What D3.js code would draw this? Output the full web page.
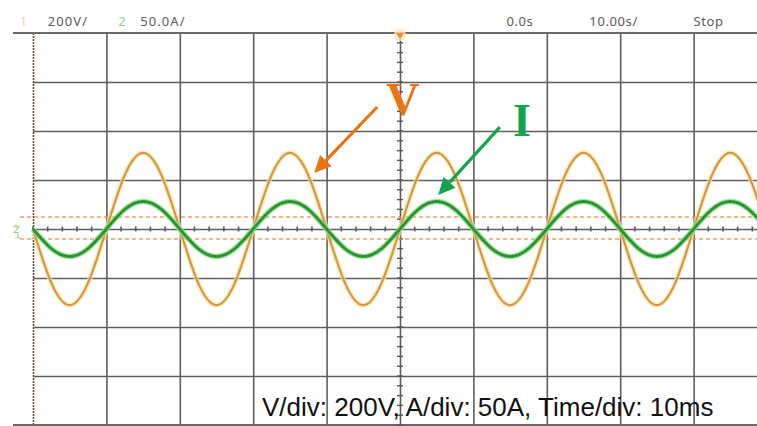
<!DOCTYPE html>
<html>
<head>
<meta charset="utf-8">
<script src="https://cdn.jsdelivr.net/npm/d3@7"></script>
<style>
  html, body { margin: 0; padding: 0; background: #fff; }
  svg { display: block; }
</style>
</head>
<body>
<svg id="chart" width="757" height="426"></svg>
<script>
// ---- Data ----
// time in ms, sampled every 2.5 ms
const timeMs = [0,2.5,5,7.5,10,12.5,15,17.5,20,22.5,25,27.5,30,32.5,35,37.5,40,42.5,45,47.5,50,
                52.5,55,57.5,60,62.5,65,67.5,70,72.5,75,77.5,80,82.5,85,87.5,90,92.5,95,97.5,100];
// channel 1: voltage (V)
const voltage = [0,-220,-311,-220,0,220,311,220,0,-220,-311,-220,0,220,311,220,0,-220,-311,-220,0,
                 220,311,220,0,-220,-311,-220,0,220,311,220,0,-220,-311,-220,0,220,311,220,0];
// channel 2: current (A)
const current = [0,-20,-28,-20,0,20,28,20,0,-20,-28,-20,0,20,28,20,0,-20,-28,-20,0,
                 20,28,20,0,-20,-28,-20,0,20,28,20,0,-20,-28,-20,0,20,28,20,0];
const xTicks = [0,10,20,30,40,50,60,70,80,90,100];
const vTicks = [-800,-600,-400,-200,0,200,400,600,800];
const triggerLevels = [49, -41];
const headerLeftLabels = ["1", "200V/", "2", "50.0A/"];
const headerLeftTimes = [-1.8, 2.0, 11.6, 14.6];
const headerRightLabels = ["0.0s", "10.00s/", "Stop"];
const headerRightTimes = [64.5, 75.8, 90.0];
const footer = "V/div: 200V, A/div: 50A, Time/div: 10ms";

// ---- Scales ----
const svg = d3.select("#chart");
const x = d3.scaleLinear().domain([0, 100]).range([33, 767]);
const yV = d3.scaleLinear().domain([-800, 800]).range([425, 33]);
const yI = d3.scaleLinear().domain([-200, 200]).range([425, 33]);

// ---- Grid ----
const grid = svg.append("g");
grid.append("g")
  .attr("transform", `translate(0,${yV(-800)})`)
  .call(d3.axisBottom(x).tickValues(xTicks).tickSize(-(yV(-800) - yV(800))).tickFormat(""))
  .call(g => g.select(".domain").remove())
  .call(g => g.selectAll(".tick line").attr("stroke-width", 1.6)
      .attr("stroke-dasharray", d => d === 0 ? "2,1" : null)
      .attr("stroke", d => d === 0 ? "#6a4a30" : "#5e5e5e"));
grid.append("g")
  .attr("transform", `translate(${x(0)},0)`)
  .call(d3.axisLeft(yV).tickValues(vTicks.filter(v => v !== 800 && v !== -800)).tickSize(-(x(100) - x(0))).tickFormat(""))
  .call(g => g.select(".domain").remove())
  .call(g => g.selectAll(".tick line").attr("stroke", "#5e5e5e").attr("stroke-width", 1.6));
// frame top & bottom borders
[800, -800].forEach(v => {
  grid.append("line").attr("x1", 13).attr("x2", 757)
    .attr("y1", yV(v)).attr("y2", yV(v))
    .attr("stroke", "#6a6a6a").attr("stroke-width", 2);
});
// minor ticks on the centre axes
const minorX = d3.range(0, 100.01, 2);
grid.selectAll(".mx").data(minorX).join("line")
  .attr("x1", d => x(d)).attr("x2", d => x(d))
  .attr("y1", yV(0) - 2.5).attr("y2", yV(0) + 2.5)
  .attr("stroke", "#556").attr("stroke-width", 1.6);
const minorY = d3.range(-800, 800.01, 40);
grid.selectAll(".my").data(minorY).join("line")
  .attr("x1", x(50) - 3).attr("x2", x(50) + 3)
  .attr("y1", d => yV(d)).attr("y2", d => yV(d))
  .attr("stroke", "#556").attr("stroke-width", 1.4);

// trigger level dashed lines
svg.selectAll(".trig").data(triggerLevels).join("line")
  .attr("x1", 20).attr("x2", 757)
  .attr("y1", d => Math.round(yV(d))).attr("y2", d => Math.round(yV(d)))
  .attr("stroke", "#f0883c").attr("stroke-width", 1.3).attr("opacity", 0.8)
  .attr("stroke-dasharray", "4,3");

// ---- Traces ----
const pts = timeMs.map((t, i) => ({t, v: voltage[i], a: current[i]}));
const lineV = d3.line().x(d => x(d.t)).y(d => yV(d.v)).curve(d3.curveNatural);
const lineI = d3.line().x(d => x(d.t)).y(d => yI(d.a)).curve(d3.curveNatural);

svg.append("path").datum(pts).attr("d", lineV)
  .attr("fill", "none").attr("stroke", "#fbe3a0").attr("stroke-width", 5).attr("opacity", 0.7);
svg.append("path").datum(pts).attr("d", lineV)
  .attr("fill", "none").attr("stroke", "#d99a45").attr("stroke-width", 2.2);
svg.append("path").datum(pts).attr("d", lineV)
  .attr("fill", "none").attr("stroke", "#b9854a").attr("stroke-width", 0.8).attr("stroke-dasharray", "1,2");

svg.append("path").datum(pts).attr("d", lineI)
  .attr("fill", "none").attr("stroke", "#8fe08f").attr("stroke-width", 5.5).attr("opacity", 0.8);
svg.append("path").datum(pts).attr("d", lineI)
  .attr("fill", "none").attr("stroke", "#2f9a33").attr("stroke-width", 3);
svg.append("path").datum(pts).attr("d", lineI)
  .attr("fill", "none").attr("stroke", "#1f6e25").attr("stroke-width", 1).attr("stroke-dasharray", "1,2.5");

// ---- Header texts ----
const headerLeftColors = ["#e6d49a", "#5a5a5a", "#8fd08f", "#5a5a5a"];
svg.selectAll(".hl").data(headerLeftLabels).join("text")
  .attr("x", (d, i) => x(headerLeftTimes[i])).attr("y", 26)
  .attr("font-family", "'Noto Sans', 'DejaVu Sans', sans-serif").attr("font-size", 13)
  .attr("letter-spacing", 1.1)
  .attr("fill", (d, i) => headerLeftColors[i]).text(d => d);
svg.selectAll(".hr").data(headerRightLabels).join("text")
  .attr("x", (d, i) => x(headerRightTimes[i])).attr("y", 26)
  .attr("font-family", "'Noto Sans', 'DejaVu Sans', sans-serif").attr("font-size", 13)
  .attr("letter-spacing", 0.6)
  .attr("fill", "#5a5a5a").text(d => d);

// trigger position marker (top)
const tx = x(50), ty = yV(800);
svg.append("circle").attr("cx", tx).attr("cy", ty + 2).attr("r", 6).attr("fill", "#fde3b8").attr("opacity", 0.8);
svg.append("path").attr("d", `M${tx - 4},${ty} L${tx + 4},${ty} L${tx},${ty + 6} Z`).attr("fill", "#e8902a");

// ground markers on the left
svg.append("text").attr("x", 13).attr("y", 233).attr("font-size", 10)
  .attr("font-family", "'DejaVu Sans', sans-serif").attr("fill", "#7fcf7f").text("2");
svg.append("path").attr("d", `M13,${yV(0) - 2} L20,${yV(0) - 2}`)
  .attr("stroke", "#e9c98a").attr("stroke-width", 1.2);
svg.append("path").attr("d", `M18,${yV(0) + 3} L18,${yV(0) + 9} M15,${yV(0) + 9} L21,${yV(0) + 9}`)
  .attr("stroke", "#9ad69a").attr("stroke-width", 1.2).attr("fill", "none");

// ---- Annotations ----
function arrow(x1, y1, x2, y2, color) {
  const ang = Math.atan2(y2 - y1, x2 - x1);
  const hl = 17, hw = 8;
  const bx = x2 - hl * Math.cos(ang), by = y2 - hl * Math.sin(ang);
  svg.append("line").attr("x1", x1).attr("y1", y1).attr("x2", bx).attr("y2", by)
    .attr("stroke", color).attr("stroke-width", 3.2);
  const px = -Math.sin(ang) * hw, py = Math.cos(ang) * hw;
  svg.append("path")
    .attr("d", `M${x2},${y2} L${bx + px},${by + py} L${bx - px},${by - py} Z`)
    .attr("fill", color);
}
arrow(x(46.9), yV(498), x(38.3), yV(229), "#ea7414");
arrow(x(63.6), yI(104), x(55.2), yI(34.7), "#13a54e");

svg.append("text").attr("x", x(50.4)).attr("y", yV(465)).attr("text-anchor", "middle")
  .attr("font-family", "'Liberation Serif', 'DejaVu Serif', serif").attr("font-weight", "bold")
  .attr("font-size", 46).attr("fill", "#ea7414").text("V");
svg.append("text").attr("x", x(66.6)).attr("y", yI(95)).attr("text-anchor", "middle")
  .attr("font-family", "'Liberation Serif', 'DejaVu Serif', serif").attr("font-weight", "bold")
  .attr("font-size", 46).attr("fill", "#13a54e").text("I");

// ---- Footer ----
svg.append("text").attr("x", 262).attr("y", 416)
  .attr("font-family", "'Liberation Sans', Arial, sans-serif").attr("font-size", 26)
  .attr("fill", "#111").text(footer);
</script>
</body>
</html>
